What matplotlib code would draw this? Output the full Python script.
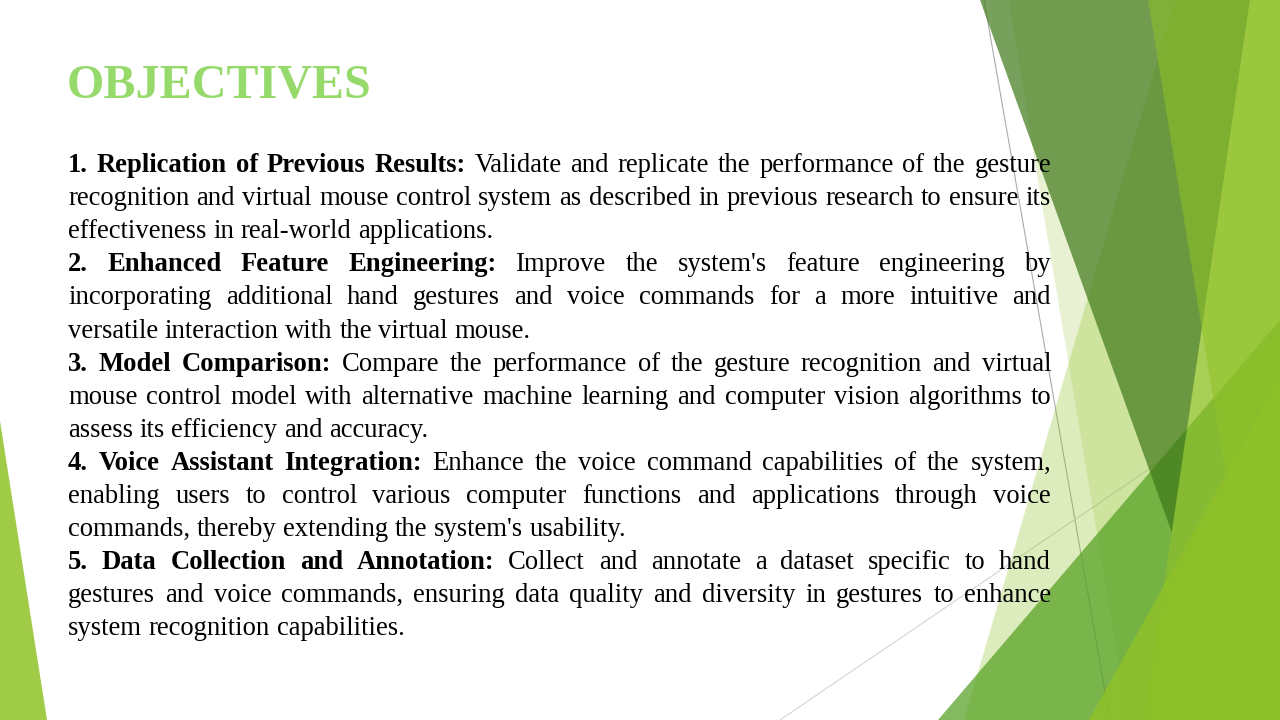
"""Objectives slide: Facet-style green facets on the right, justified text on the left."""

import matplotlib
matplotlib.use("Agg")
import matplotlib.pyplot as plt
from matplotlib.font_manager import FontProperties
from matplotlib.patches import Polygon

W, H = 1280, 720

TITLE = "OBJECTIVES"

HEADINGS = [
    "1. Replication of Previous Results:",
    "2. Enhanced Feature Engineering:",
    "3. Model Comparison:",
    "4. Voice Assistant Integration:",
    "5. Data Collection and Annotation:",
]

# body text of each objective, broken as on the slide
BODY_LINES = [
    ["Validate and replicate the performance of the gesture",
     "recognition and virtual mouse control system as described in previous research to ensure its",
     "effectiveness in real-world applications."],
    ["Improve the system's feature engineering by",
     "incorporating additional hand gestures and voice commands for a more intuitive and",
     "versatile interaction with the virtual mouse."],
    ["Compare the performance of the gesture recognition and virtual",
     "mouse control model with alternative machine learning and computer vision algorithms to",
     "assess its efficiency and accuracy."],
    ["Enhance the voice command capabilities of the system,",
     "enabling users to control various computer functions and applications through voice",
     "commands, thereby extending the system's usability."],
    ["Collect and annotate a dataset specific to hand",
     "gestures and voice commands, ensuring data quality and diversity in gestures to enhance",
     "system recognition capabilities."],
]

ACCENT1 = "#90C226"
ACCENT2 = "#54A021"
DARK = "#3F7819"
TITLE_COLOR = "#97DA6C"

# background facets: (vertices in px, colour, alpha), drawn in this order
FACETS = [
    ([(1175, 0), (1280, 0), (1280, 720), (964, 720)], ACCENT1, 0.30),
    ([(1008, 0), (1280, 0), (1280, 720), (1128, 720)], ACCENT1, 0.20),
    ([(938, 720), (1280, 320), (1280, 720)], ACCENT2, 0.72),
    ([(980, 0), (1250, 0), (1172, 533)], DARK, 0.70),
    ([(1250, 0), (1280, 0), (1280, 720), (1144, 720)], ACCENT1, 0.60),
    ([(1148, 0), (1280, 0), (1280, 720), (1266, 720)], ACCENT1, 0.55),
    ([(1089, 720), (1280, 377), (1280, 720)], ACCENT1, 0.80),
    ([(0, 421), (47, 720), (0, 720)], ACCENT1, 0.85),
]
CONNECTORS = [
    ((984, 1110), (0, 720), "#ababab"),
    ((780, 1280), (720, 380), "#d4d4d4"),
]

LEFT, RIGHT = 68, 1051
BASE0, LEADING = 172, 33.1
PX = 100 / 72  # px per pt at dpi 100

fig = plt.figure(figsize=(W / 100, H / 100), dpi=100)
ax = fig.add_axes([0, 0, 1, 1])
ax.set_xlim(0, W)
ax.set_ylim(H, 0)
ax.axis("off")

for xs, ys, c in CONNECTORS:
    ax.plot(xs, ys, color=c, lw=0.8, zorder=1, solid_capstyle="butt")
for verts, c, a in FACETS:
    ax.add_patch(Polygon(verts, closed=True, facecolor=c, alpha=a,
                         edgecolor="none", zorder=2))

ax.text(67, 98, TITLE, fontsize=48 / PX, fontweight="bold",
        family="Liberation Serif", color=TITLE_COLOR, ha="left", va="baseline")

reg = FontProperties(family="Liberation Serif", size=26.67 / PX)
bold = FontProperties(family="Liberation Serif", size=26.67 / PX, weight="bold")
renderer = fig.canvas.get_renderer()


def width(s, prop):
    return renderer.get_text_width_height_descent(s, prop, ismath=False)[0]


space = width("a a", reg) - width("aa", reg)

line_no = 0
for head, body in zip(HEADINGS, BODY_LINES):
    for k, text in enumerate(body):
        words = [(w, reg) for w in text.split()]
        if k == 0:
            words = [(w, bold) for w in head.split()] + words
        widths = [width(w, p) for w, p in words]
        last = k == len(body) - 1
        gap = space if last else (RIGHT - LEFT - sum(widths)) / (len(words) - 1)
        y = BASE0 + line_no * LEADING
        x = LEFT
        for (w, p), wd in zip(words, widths):
            ax.text(x, y, w, fontproperties=p, color="black",
                    ha="left", va="baseline", zorder=3)
            x += wd + gap
        line_no += 1

fig.savefig("out.png", dpi=100)
